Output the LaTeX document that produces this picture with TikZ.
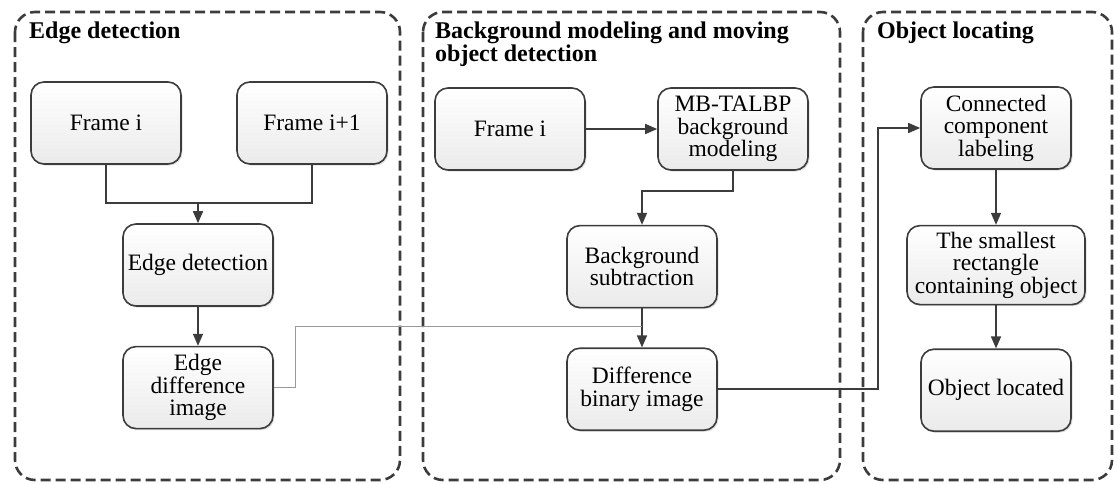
\documentclass[tikz,border=0pt]{standalone}
\usepackage{fontspec}
\setmainfont{Liberation Serif}
\usetikzlibrary{arrows.meta,positioning,shadows}
\definecolor{linegray}{HTML}{3C3C3C}
\tikzset{%
  >={Triangle[width=10pt,length=12pt]},
  % Specifications for style of nodes:
            base/.style = {rectangle, rounded corners=13pt, draw=linegray,
                           line width=1.6pt, minimum width=150pt, minimum height=82pt,
                           text centered, align=center, inner sep=2pt,
                           font=\fontsize{23.5}{22.5}\selectfont},
        stepbox/.style = {base, top color=white, bottom color=gray!16,
                           drop shadow={shadow xshift=1.5pt, shadow yshift=-1.5pt,
                           opacity=0.25}},
          group/.style = {draw=linegray, line width=2.6pt, rounded corners=20pt,
                           dash pattern=on 10pt off 5pt},
          title/.style = {anchor=north west, inner sep=0pt, align=left,
                           font=\fontsize{24}{21.5}\selectfont\bfseries},
           flow/.style = {->, draw=linegray, line width=1.6pt},
}

\begin{document}
\begin{tikzpicture}[x=1pt, y=1pt]
  \useasboundingbox (0,0) rectangle (1118,-483);

  % Dashed group frames and their titles
  \draw[group] (15,-12) rectangle (400,-480);
  \draw[group] (423,-12) rectangle (840,-480);
  \draw[group] (863,-12) rectangle (1112,-480);
  \node (titleA) [title] at (29,-22) {Edge detection};
  \node (titleB) [title] at (435,-22) {Background modeling and moving\\object detection};
  \node (titleC) [title] at (877,-22) {Object locating};

  % Edge detection
  \node (frameA)   [stepbox] at (106,-123) {Frame i};
  \node (frameB)   [stepbox] at (312,-123) {Frame i+1};
  \node (edgedet)  [stepbox] at (198,-265) {Edge detection};
  \node (edgediff) [stepbox, below=39pt of edgedet] {Edge\\difference\\image};

  % Background modeling and moving object detection
  \node (frameC)   [stepbox] at (510,-129) {Frame i};
  \node (mbtalbp)  [stepbox] at (733,-129) {MB-TALBP\\background\\modeling};
  \node (bgsub)    [stepbox, below=54pt of mbtalbp, xshift=-91pt] {Background\\subtraction};
  \node (diffbin)  [stepbox, below=39pt of bgsub] {Difference\\binary image};

  % Object locating
  \node (conncomp) [stepbox] at (996,-128) {Connected\\component\\labeling};
  \node (smallest) [stepbox, minimum width=178pt, minimum height=79pt,
                    below=55pt of conncomp] {The smallest\\rectangle\\containing object};
  \node (located)  [stepbox, below=43pt of smallest] {Object located};

  % Connectors
  \coordinate (join) at ([yshift=20pt]edgedet.north);
  \draw[draw=linegray, line width=1.6pt] (frameA.south) |- (join) -| (frameB.south);
  \draw[flow] (join) -- (edgedet);
  \draw[flow] (edgedet) -- (edgediff);

  \draw[flow] (frameC) -- (mbtalbp);
  \draw[flow] (mbtalbp.south) |- ++(0,-20) -| (bgsub.north);
  \draw[flow] (bgsub) -- (diffbin);
  \draw[draw=gray!80, line width=1pt] (edgediff.east) -- ++(22,0)
        |- ([yshift=-18pt]bgsub.south);

  \draw[flow] (diffbin.east) -- ++(160,0) |- (conncomp.west);
  \draw[flow] (conncomp) -- (smallest);
  \draw[flow] (smallest) -- (located);
\end{tikzpicture}
\end{document}
